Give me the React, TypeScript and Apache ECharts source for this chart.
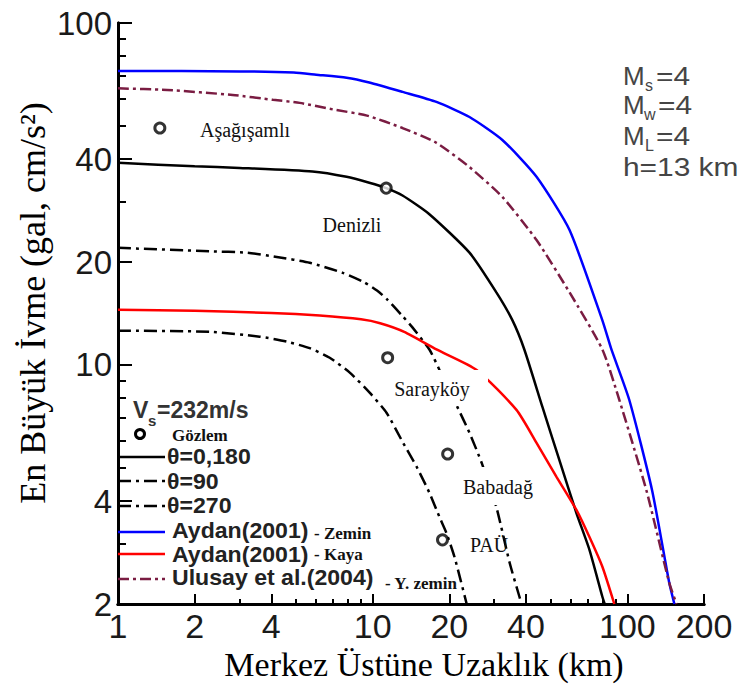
import React, { useEffect, useRef } from "react";
import * as echarts from "echarts";

// Distances (km) and peak accelerations (gal) of each attenuation curve
const thetaSolidDist = [1, 2, 3, 5.8, 7.9, 9.7, 11.3, 13.1, 16.7, 24, 30.6, 35.4, 39.4, 46.4, 54.1, 63.1, 71, 79.8, 81.5];
const thetaSolidAcc = [39.0, 38.1, 37.7, 36.8, 35.5, 34.1, 32.9, 31.3, 27.6, 21.3, 16.3, 13.5, 11.1, 7.54, 5.27, 3.69, 2.88, 2.1, 2.0];

const theta90Dist = [1, 2.3, 3.2, 4.2, 5.66, 7.63, 9.2, 10.4, 11.35, 13.1, 14.3, 16.7, 18.3, 21.5, 24, 26.8, 30.6, 34.5, 37.7, 38.4];
const theta90Acc = [22.0, 21.5, 21.3, 20.7, 19.9, 18.6, 17.5, 16.5, 15.6, 13.9, 12.9, 11.1, 9.67, 7.54, 6.33, 5.17, 3.84, 2.64, 2.1, 2.0];

const theta270Dist = [1, 2.3, 3.6, 4.6, 5.66, 6.78, 8.13, 9.73, 11.35, 13.1, 14.9, 16.7, 18.3, 19.5, 21.0, 23.4];
const theta270Acc = [12.6, 12.5, 12.1, 11.7, 11.2, 10.5, 9.5, 8.3, 7.24, 5.96, 5.03, 4.23, 3.59, 3.22, 2.73, 2.0];

const aydanZeminDist = [1, 3, 4.9, 6, 7.9, 9.7, 13.1, 17.8, 24, 32.3, 44, 59.3, 79.8, 86.6, 101.8, 125, 146, 153];
const aydanZeminAcc = [72.4, 72.2, 71.6, 70.6, 69.2, 67.0, 62.9, 58.8, 53.1, 45.5, 35.5, 24.8, 13.5, 11.1, 7.9, 4.31, 2.31, 2.0];

const aydanKayaDist = [1, 2, 4, 6.2, 9, 10.7, 13.3, 17.8, 25.6, 36.7, 44, 52.7, 63.1, 71, 79.8, 88.9];
const aydanKayaAcc = [14.5, 14.4, 14.2, 13.95, 13.6, 13.25, 12.5, 11.1, 9.67, 7.39, 5.92, 4.71, 3.77, 3.14, 2.57, 2.0];

const ulusayDist = [1, 1.56, 2.82, 4.06, 5.17, 6.97, 9.5, 13.1, 17.8, 24, 32.3, 44, 59.3, 79.8, 93, 118.7, 146, 156];
const ulusayAcc = [64.4, 63.7, 61.6, 59.6, 58.4, 55.9, 53.6, 49.3, 44.6, 37.9, 31.0, 23.2, 16.3, 11.1, 7.9, 4.31, 2.31, 2.0];

// Observed stations
const stationNames = ["Aşağışamlı", "Denizli", "Sarayköy", "Babadağ", "PAÜ"];
const stationDist = [1.46, 11.3, 11.45, 19.7, 18.8];
const stationAcc = [49.3, 32.9, 10.5, 5.49, 3.08];

// Axis ticks (log scale)
const xMajorTicks = [1, 2, 4, 10, 20, 40, 100, 200];
const xMinorTicks = [3, 5, 6, 7, 8, 9, 30, 50, 60, 70, 80, 90];
const yMajorTicks = [2, 4, 10, 20, 40, 100];
const yMinorTicks = [3, 5, 6, 7, 8, 9, 30, 50, 60, 70, 80, 90];

const X_MIN = 1;
const X_MAX = 200;
const Y_MIN = 2;
const Y_MAX = 100;

const LOG = Math.log10;
const SANS = "Liberation Sans, Arial, sans-serif";
const SERIF = "Liberation Serif, Times New Roman, serif";
const MAROON = "#7a1c42";
const PARAM_GRAY = "#454545";

const toPairs = (xs: number[], ys: number[]) => xs.map((x, i) => [LOG(x), LOG(ys[i])]);
const fmt = (v: number) => String(Math.round(Math.pow(10, v)));

const GRID = { left: 118, top: 23, width: 586, height: 581, outerBoundsMode: "none" };

function lineSeries(name: string, xs: number[], ys: number[], color: string, dash: any) {
  return {
    name,
    type: "line",
    xAxisIndex: 0,
    yAxisIndex: 0,
    data: toPairs(xs, ys),
    symbol: "none",
    smooth: 0.2,
    lineStyle: { color, width: 2.5, type: dash },
    z: 3,
  };
}

function txt(text: string, x: number, y: number, o: any = {}) {
  return {
    type: "text",
    x,
    y,
    z: 110,
    scaleX: o.scaleX || 1,
    style: {
      text,
      fill: o.fill || "#111",
      fontSize: o.size || 20,
      fontFamily: o.family || SERIF,
      fontWeight: o.weight || "normal",
      align: o.align || "left",
      verticalAlign: "middle",
    },
  };
}

function legendLine(y: number, color: string, dash?: number[]) {
  return {
    type: "line",
    z: 110,
    shape: { x1: 118, y1: y, x2: 165, y2: y },
    style: { stroke: color, lineWidth: 2.5, lineDash: dash || null },
  };
}

function param(text: string, x: number, y: number, sub = false, scaleX = 1) {
  return txt(text, x, y, { size: sub ? 16 : 26, family: SANS, fill: PARAM_GRAY, scaleX });
}

function legendLabel(text: string, x: number, y: number) {
  return txt(text, x, y, { size: 22, family: SANS, weight: "bold", fill: "#222", scaleX: 1.05 });
}

export default function App() {
  const ref = useRef<HTMLDivElement>(null);

  useEffect(() => {
    if (!ref.current) return;
    const chart = echarts.init(ref.current, null, { renderer: "svg" });

    const dashDot = [13, 5, 3, 5];
    const maroonDash = [11, 4, 3, 4];

    const baseX = {
      type: "value",
      min: LOG(X_MIN),
      max: LOG(X_MAX),
      splitLine: { show: false },
    };
    const baseY = {
      type: "value",
      min: LOG(Y_MIN),
      max: LOG(Y_MAX),
      splitLine: { show: false },
    };

    const option: any = {
      animation: false,
      backgroundColor: "#ffffff",
      grid: [GRID, { ...GRID }],
      xAxis: [
        {
          ...baseX,
          gridIndex: 0,
          axisLine: { show: true, lineStyle: { color: "#000", width: 3 } },
          axisTick: {
            show: true,
            inside: true,
            length: 10,
            customValues: xMajorTicks.map(LOG),
            lineStyle: { color: "#000", width: 2 },
          },
          axisLabel: {
            show: true,
            customValues: xMajorTicks.map(LOG),
            formatter: fmt,
            fontSize: 34,
            fontFamily: SANS,
            color: "#1a1a1a",
            margin: 5,
            showMinLabel: true,
            showMaxLabel: true,
          },
        },
        {
          ...baseX,
          gridIndex: 1,
          axisLine: { show: true, lineStyle: { color: "#000", width: 3 } },
          axisTick: {
            show: true,
            inside: true,
            length: 5,
            customValues: xMinorTicks.map(LOG),
            lineStyle: { color: "#000", width: 2 },
          },
          axisLabel: { show: false },
        },
      ],
      yAxis: [
        {
          ...baseY,
          gridIndex: 0,
          axisLine: { show: true, lineStyle: { color: "#000", width: 3 } },
          axisTick: {
            show: true,
            inside: true,
            length: 14,
            customValues: yMajorTicks.map(LOG),
            lineStyle: { color: "#000", width: 2 },
          },
          axisLabel: {
            show: true,
            customValues: yMajorTicks.map(LOG),
            formatter: fmt,
            fontSize: 33,
            fontFamily: SANS,
            color: "#1a1a1a",
            margin: 6,
            showMinLabel: true,
            showMaxLabel: true,
          },
        },
        {
          ...baseY,
          gridIndex: 1,
          axisLine: { show: true, lineStyle: { color: "#000", width: 3 } },
          axisTick: {
            show: true,
            inside: true,
            length: 8,
            customValues: yMinorTicks.map(LOG),
            lineStyle: { color: "#000", width: 2 },
          },
          axisLabel: { show: false },
        },
      ],
      series: [
        lineSeries("Aydan(2001) - Zemin", aydanZeminDist, aydanZeminAcc, "#0000ff", "solid"),
        lineSeries("Ulusay et al.(2004) - Y. zemin", ulusayDist, ulusayAcc, MAROON, maroonDash),
        lineSeries("θ=0,180", thetaSolidDist, thetaSolidAcc, "#000000", "solid"),
        lineSeries("θ=90", theta90Dist, theta90Acc, "#000000", dashDot),
        lineSeries("Aydan(2001) - Kaya", aydanKayaDist, aydanKayaAcc, "#ff0000", "solid"),
        lineSeries("θ=270", theta270Dist, theta270Acc, "#000000", dashDot),
        {
          name: "Gözlem",
          type: "scatter",
          xAxisIndex: 0,
          yAxisIndex: 0,
          data: stationDist.map((d, i) => ({ name: stationNames[i], value: [LOG(d), LOG(stationAcc[i])] })),
          symbol: "circle",
          symbolSize: 10,
          itemStyle: { color: "#ffffff", borderColor: "#000000", borderWidth: 3 },
          z: 5,
        },
      ],
      graphic: {
        elements: [
          // axis titles
          {
            type: "text",
            x: 33,
            y: 303,
            rotation: Math.PI / 2,
            z: 110,
            style: {
              text: "En Büyük İvme (gal, cm/s²)",
              fontSize: 36,
              fontFamily: SERIF,
              fill: "#000",
              align: "center",
              verticalAlign: "middle",
            },
          },
          txt("Merkez Üstüne Uzaklık (km)", 424, 664, { size: 34, align: "center", fill: "#000" }),

          // station names
          txt(stationNames[0], 200, 130),
          txt(stationNames[1], 352, 225, { align: "center" }),
          { type: "rect", z: 105, shape: { x: 385, y: 370, width: 103, height: 36 }, style: { fill: "#ffffff" } },
          txt(stationNames[2], 432, 389, { align: "center" }),
          { type: "rect", z: 105, shape: { x: 458, y: 467, width: 82, height: 38 }, style: { fill: "#ffffff" } },
          txt(stationNames[3], 498, 487, { align: "center" }),
          txt(stationNames[4], 489, 545, { align: "center" }),

          // source parameters
          param("M", 623, 76),
          param("s", 645, 85, true),
          param("=4", 656, 76, false, 1.15),
          param("M", 623, 105),
          param("w", 644, 114, true),
          param("=4", 658, 105, false, 1.15),
          param("M", 623, 136),
          param("L", 645, 145, true),
          param("=4", 656, 136, false, 1.15),
          param("h=13 km", 623, 167, false, 1.15),

          // legend
          txt("V", 133, 410, { size: 23, family: SANS, weight: "bold", fill: "#333" }),
          txt("s", 148, 420, { size: 15, family: SANS, weight: "bold", fill: "#333" }),
          txt("=232m/s", 157, 410, { size: 23, family: SANS, weight: "bold", fill: "#333" }),
          { type: "circle", z: 110, shape: { cx: 140, cy: 434, r: 4.5 }, style: { fill: "#fff", stroke: "#000", lineWidth: 3 } },
          txt("Gözlem", 172, 435, { size: 17, weight: "bold" }),
          legendLine(457, "#000"),
          legendLabel("θ=0,180", 167, 457),
          legendLine(481, "#000", dashDot),
          legendLabel("θ=90", 167, 482),
          legendLine(506, "#000", dashDot),
          legendLabel("θ=270", 167, 506),
          legendLine(532, "#0000ff"),
          legendLabel("Aydan(2001)", 172, 531),
          txt("- Zemin", 314, 533, { size: 17, weight: "bold" }),
          legendLine(554, "#ff0000"),
          legendLabel("Aydan(2001)", 172, 555),
          txt("- Kaya", 314, 554, { size: 17, weight: "bold" }),
          legendLine(579, MAROON, maroonDash),
          legendLabel("Ulusay et al.(2004)", 172, 578),
          txt("- Y. zemin", 385, 583, { size: 17, weight: "bold" }),
        ],
      },
    };

    chart.setOption(option);
    return () => chart.dispose();
  }, []);

  return (
    <div
      ref={ref}
      style={{ position: "fixed", left: 0, top: 0, width: 739, height: 693, background: "#fff" }}
    />
  );
}
